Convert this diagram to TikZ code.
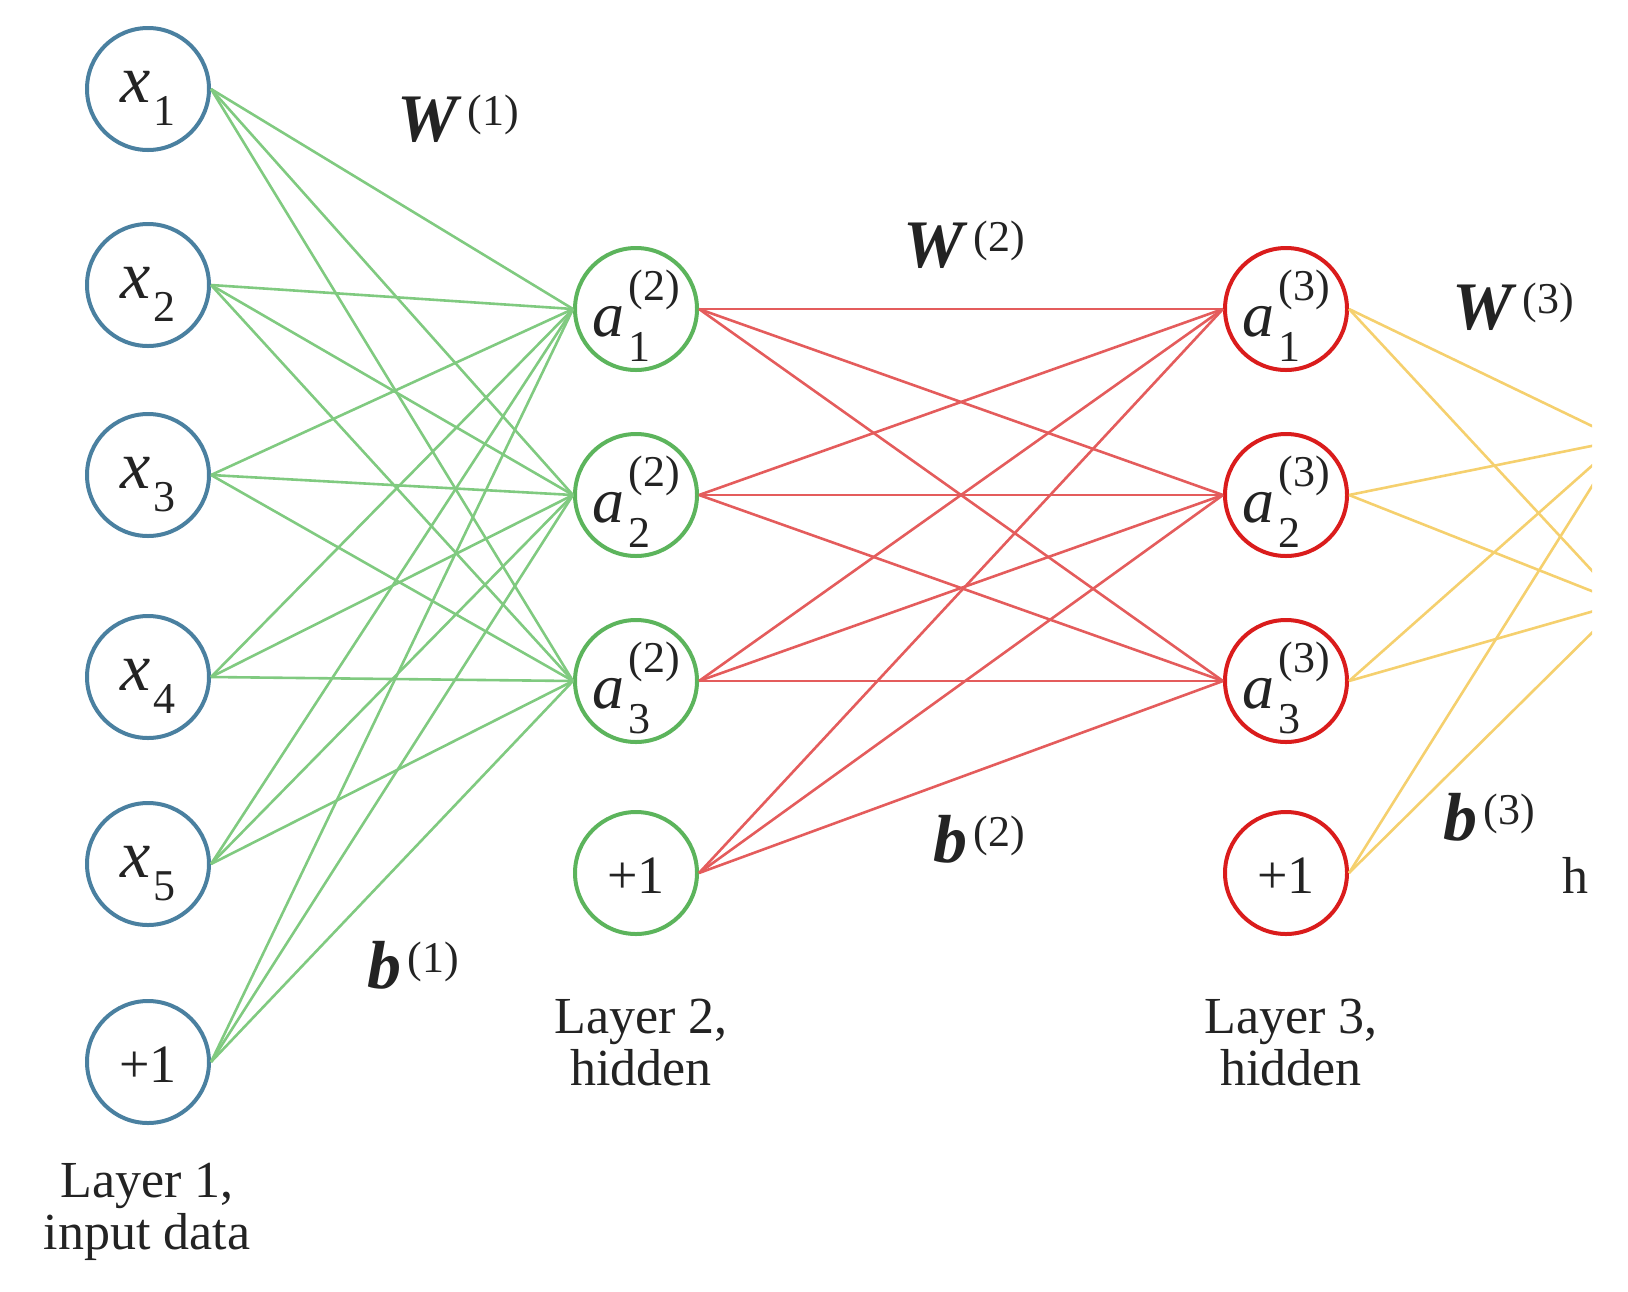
\documentclass[tikz,border=0pt]{standalone}
\usepackage{fontspec}
\setmainfont{Liberation Serif}
\definecolor{cblue}{RGB}{74,128,160}
\definecolor{cgreen}{RGB}{92,180,92}
\definecolor{cgreenl}{RGB}{128,202,128}
\definecolor{cred}{RGB}{218,28,28}
\definecolor{credl}{RGB}{228,92,92}
\definecolor{cyel}{RGB}{245,208,110}
\definecolor{ctext}{RGB}{35,35,35}
\newcommand{\nnx}[1]{\textit{x}\kern1pt\raisebox{-11.5pt}{\fontsize{22}{22}\selectfont #1}}
\newcommand{\nna}[2]{\textit{a}\kern2pt\rlap{\raisebox{-12.5pt}{\fontsize{22}{22}\selectfont #1}}\raisebox{18pt}{\fontsize{22}{22}\selectfont(#2)}}
\newcommand{\nnw}[2]{\textbf{\textit{#1}}\kern3pt\raisebox{8pt}{\fontsize{22}{22}\selectfont(#2)}}
\begin{document}
\begin{tikzpicture}[x=0.5pt,y=-0.5pt,
  neuron/.style={circle,minimum size=61pt,inner sep=0pt,line width=2pt,text=ctext},
  inp/.style={neuron,draw=cblue},
  hidA/.style={neuron,draw=cgreen},
  hidB/.style={neuron,draw=cred},
  letx/.style={font=\fontsize{34}{34}\selectfont,text height=13pt,text depth=0pt},
  leta/.style={font=\fontsize{32}{32}\selectfont,text height=27pt,text depth=0pt},
  biasn/.style={font=\fontsize{27}{27}\selectfont,text height=20pt,text depth=0pt},
  wlab/.style={anchor=base west,inner sep=0pt,text=ctext,font=\fontsize{34}{34}\selectfont},
  layerlab/.style={anchor=north,inner sep=0pt,align=center,text=ctext,font=\fontsize{26}{26}\selectfont},
  gline/.style={draw=cgreenl,line width=1.3pt},
  rline/.style={draw=credl,line width=1.3pt},
  yline/.style={draw=cyel,line width=1.3pt}]
\useasboundingbox (0,0) rectangle (1628,1291);
% layer 1
\node[inp,letx] (i1) at (148,89) {\nnx{1}};
\node[inp,letx] (i2) at (148,285) {\nnx{2}};
\node[inp,letx] (i3) at (148,475) {\nnx{3}};
\node[inp,letx] (i4) at (148,677) {\nnx{4}};
\node[inp,letx] (i5) at (148,864) {\nnx{5}};
\node[inp,biasn] (ib) at (148,1062) {+1};
% layer 2
\node[hidA,leta] (h1) at (636,309) {\nna{1}{2}};
\node[hidA,leta] (h2) at (636,495) {\nna{2}{2}};
\node[hidA,leta] (h3) at (636,681) {\nna{3}{2}};
\node[hidA,biasn] (hb) at (636,873) {+1};
% layer 3
\node[hidB,leta] (k1) at (1286,309) {\nna{1}{3}};
\node[hidB,leta] (k2) at (1286,495) {\nna{2}{3}};
\node[hidB,leta] (k3) at (1286,681) {\nna{3}{3}};
\node[hidB,biasn] (kb) at (1286,873) {+1};
% off-frame output points
\coordinate (o1) at (1621,440);
\coordinate (o2) at (1622,603);
% connectors
\foreach \s in {i1,i2,i3,i4,i5,ib}
  \foreach \t in {h1,h2,h3}
    \draw[gline] (\s.east) -- (\t.west);
\foreach \s in {h1,h2,h3,hb}
  \foreach \t in {k1,k2,k3}
    \draw[rline] (\s.east) -- (\t.west);
\begin{scope}
  \clip (0,0) rectangle (1592,1291);
  \foreach \s in {k1,k2,k3,kb}
    \foreach \t in {o1,o2}
      \draw[yline] (\s.east) -- (\t);
  \node[wlab,font=\fontsize{26}{26}\selectfont] (hl) at (1562,893) {h};
\end{scope}
% weight and bias labels
\node[wlab] (w1) at (397,141) {\nnw{W}{1}};
\node[wlab] (w2) at (903,267) {\nnw{W}{2}};
\node[wlab] (w3) at (1452,329) {\nnw{W}{3}};
\node[wlab] (b1) at (367,988) {\nnw{b}{1}};
\node[wlab] (b2) at (933,862) {\nnw{b}{2}};
\node[wlab] (b3) at (1443,840) {\nnw{b}{3}};
% layer labels
\node[layerlab] (l1) at (147,1163) {Layer 1,\\input data};
\node[layerlab] (l2) at (641,999) {Layer 2,\\hidden};
\node[layerlab] (l3) at (1291,999) {Layer 3,\\hidden};
\end{tikzpicture}
\end{document}
